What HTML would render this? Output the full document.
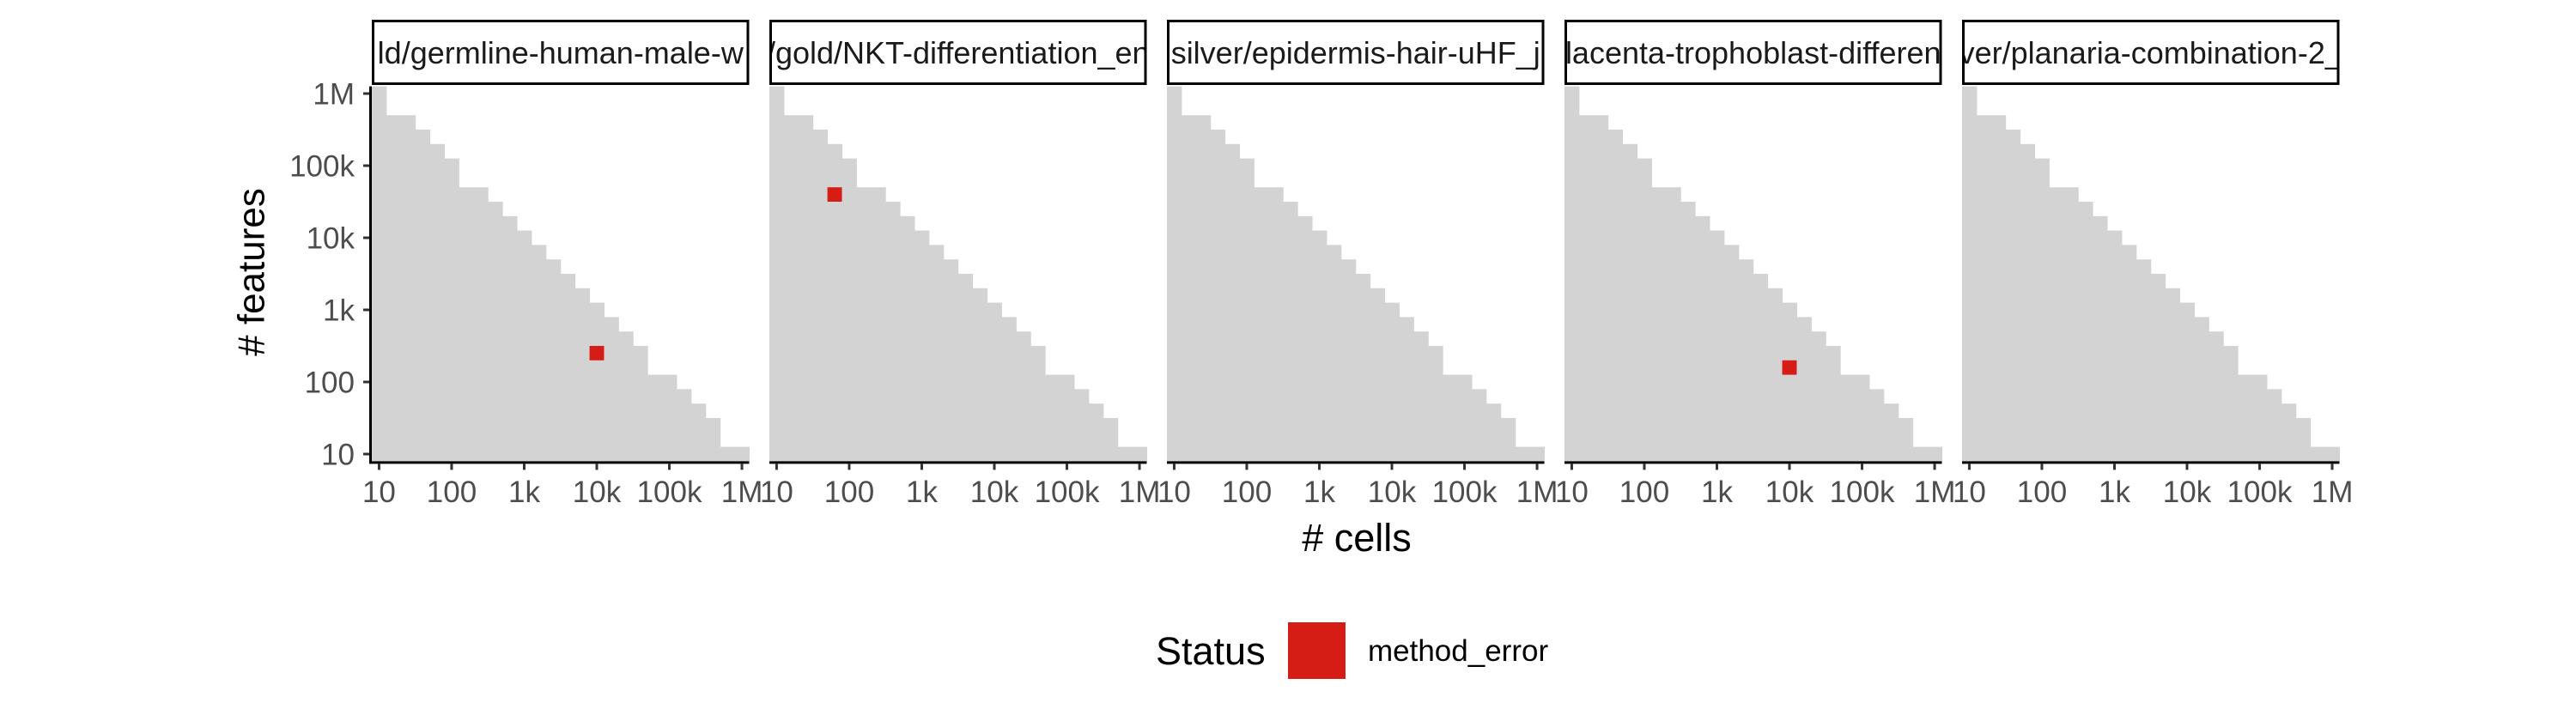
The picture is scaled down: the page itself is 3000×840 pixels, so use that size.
<!DOCTYPE html>
<html><head><meta charset="utf-8"><style>
html,body{margin:0;padding:0;background:#fff;}
svg{display:block;font-family:"Liberation Sans",Arial,sans-serif;}
</style></head><body>
<svg id="chart" width="3000" height="840" viewBox="0 0 3000 840" xmlns="http://www.w3.org/2000/svg">
<rect width="3000" height="840" fill="#fff"/>
<g id="panels"></g>
<text x="296" y="317" transform="rotate(-90 296 317)" text-anchor="middle" dominant-baseline="middle" font-size="44" fill="#000"># features</text>
<text x="1580" y="642" text-anchor="middle" font-size="45" fill="#000"># cells</text>
<g>
<text x="1346" y="774" font-size="45" fill="#000">Status</text>
<rect x="1500" y="725" width="67" height="66" fill="#d51d16"/>
<text x="1593" y="770" font-size="35" fill="#000">method_error</text>
</g>
</svg>
<script>
const panelTitles = ["ld/germline-human-male-w","/gold/NKT-differentiation_en","silver/epidermis-hair-uHF_j","lacenta-trophoblast-differen","ver/planaria-combination-2_"];
const cellLog = [1.0,1.2,1.4,1.6,1.8,2.0,2.2,2.4,2.6,2.8,3.0,3.2,3.4,3.6,3.8,4.0,4.2,4.4,4.6,4.8,5.0,5.2,5.4,5.6,5.8,6.0];
const maxFeatureLog = [6.0,5.6,5.6,5.4,5.2,5.0,4.6,4.6,4.4,4.2,4.0,3.8,3.6,3.4,3.2,3.0,2.8,2.6,2.4,2.0,2.0,1.8,1.6,1.4,1.0,1.0];
const errorPanel = [0,1,3];
const errorCellLog = [4.0,1.8,4.0];
const errorFeatureLog = [2.4,4.6,2.2];
const tickLog = [1,2,3,4,5,6];
const tickLabels = ["10","100","1k","10k","100k","1M"];

const NS="http://www.w3.org/2000/svg";
const root=document.getElementById('panels');
const PANEL_X0=433, PITCH=463, PW=439.5, TOP=100.6, BOT=537.4;
const LMIN=0.9, LMAX=6.1, STEP=0.2;
function mk(tag,attrs,parent){const e=document.createElementNS(NS,tag);for(const k in attrs)e.setAttribute(k,attrs[k]);parent.appendChild(e);return e;}
panelTitles.forEach((title,p)=>{
  const x0=PANEL_X0+p*PITCH;
  const xs=v=>x0+(v-LMIN)/(LMAX-LMIN)*PW;
  const ys=v=>BOT-(v-LMIN)/(LMAX-LMIN)*(BOT-TOP);
  const g=mk('g',{},root);
  
  
  cellLog.forEach((c,i)=>{
    const r=mk('rect',{x:xs(c-STEP/2),y:ys(maxFeatureLog[i]+STEP/2),width:xs(c+STEP/2)-xs(c-STEP/2)+0.5,height:ys(LMIN)-ys(maxFeatureLog[i]+STEP/2),fill:'#d3d3d3'},g);
    
    
  });
  errorPanel.forEach((ep,j)=>{
    if(ep!==p)return;
    const r=mk('rect',{x:xs(errorCellLog[j]-STEP/2),y:ys(errorFeatureLog[j]+STEP/2),width:xs(errorCellLog[j]+STEP/2)-xs(errorCellLog[j]-STEP/2),height:ys(errorFeatureLog[j]-STEP/2)-ys(errorFeatureLog[j]+STEP/2),fill:'#d51d16'},g);
    
    
  });
  const clipId='clip'+p;
  const cp=mk('clipPath',{id:clipId},g);
  mk('rect',{x:x0,y:23,width:PW,height:76},cp);
  const sr=mk('rect',{x:x0+1.5,y:24.5,width:PW-3,height:73,fill:'#fff',stroke:'#000','stroke-width':3},g);
  
  
  const st=mk('text',{x:x0+PW/2,y:74,'text-anchor':'middle','font-size':36,fill:'#1a1a1a','clip-path':'url(#'+clipId+')'},g);
  st.textContent=title;
  
  
  const br=mk('rect',{x:x0+1.5,y:24.5,width:PW-3,height:73,fill:'none',stroke:'#000','stroke-width':3},g);
  
  
  const xa=mk('line',{x1:x0,x2:x0+PW,y1:BOT+1.5,y2:BOT+1.5,stroke:'#000','stroke-width':3},g);
  
  
  tickLog.forEach((t,i)=>{
    mk('line',{x1:xs(t),x2:xs(t),y1:BOT+3,y2:BOT+10,stroke:'#333','stroke-width':3},g);
    const tl=mk('text',{x:xs(t),y:585,'text-anchor':'middle','font-size':35,fill:'#4d4d4d'},g);
    tl.textContent=tickLabels[i];
    
    
  });
  if(p===0){
    const ya=mk('line',{x1:x0-1.5,x2:x0-1.5,y1:TOP,y2:BOT+3,stroke:'#000','stroke-width':3},g);
    
    
    tickLog.forEach((t,i)=>{
      mk('line',{x1:x0-10,x2:x0-3,y1:ys(t),y2:ys(t),stroke:'#333','stroke-width':3},g);
      const tl=mk('text',{x:x0-20,y:ys(t)+12.5,'text-anchor':'end','font-size':35,fill:'#4d4d4d'},g);
      tl.textContent=tickLabels[i];
      
      
    });
  }
});
</script>
</body></html>
